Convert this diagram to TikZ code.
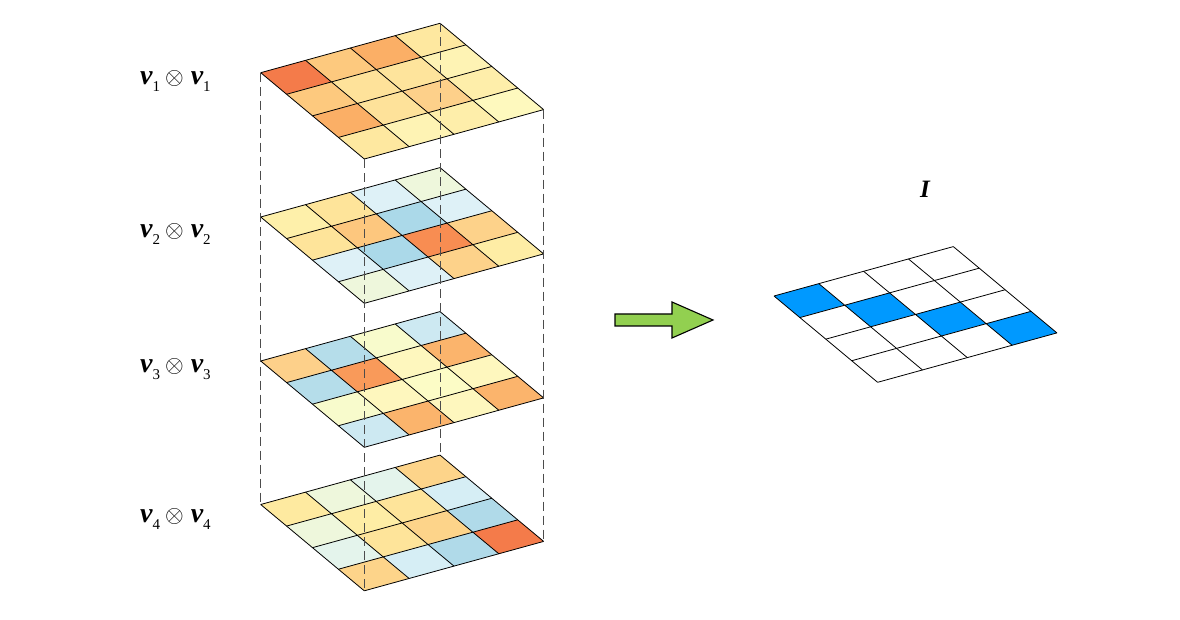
\documentclass[tikz,border=0pt]{standalone}
\usepackage{fontspec}
\setmainfont{Liberation Serif}
\usetikzlibrary{calc}
\definecolor{arrgreen}{HTML}{92D050}
\definecolor{idblue}{HTML}{0099FF}
\tikzset{cellline/.style={black,line width=0.8pt,line join=round}}
\tikzset{guide/.style={dash pattern=on 9pt off 5pt,draw=black!70,line width=1pt}}
\tikzset{arrowbox/.style={draw=black,fill=arrgreen,line width=1.1pt,line join=miter}}
% one 4x4 slab: origin, name, 16 colours row by row
\newcommand{\cellgrid}[3]{%
\begin{scope}[shift={#1},x={(44.83pt,12.35pt)},y={(25.9pt,-21.58pt)}]
\foreach \col [count=\k from 0] in {#3} {
  \pgfmathtruncatemacro{\rr}{floor(\k/4)}
  \pgfmathtruncatemacro{\cc}{mod(\k,4)}
  \definecolor{cellc}{HTML}{\col}
  \fill[cellc] (\cc,\rr) -- ++(1,0) -- ++(0,1) -- ++(-1,0) -- cycle;
}
\foreach \i in {0,...,4} \draw[cellline] (0,\i) -- (4,\i) (\i,0) -- (\i,4);
\coordinate (#2l) at (0,0);
\coordinate (#2t) at (4,0);
\coordinate (#2r) at (4,4);
\coordinate (#2b) at (0,4);
\end{scope}}
\newcommand{\vsub}[1]{{\fontsize{28}{28}\selectfont\bfseries\itshape v}\raisebox{-7pt}{\fontsize{15}{15}\selectfont #1}}
\newcommand{\vlabel}[1]{\vsub{#1}\hspace{5pt}\scalebox{2.4}{$\otimes$}\hspace{7pt}\vsub{#1}}

\begin{document}
\begin{tikzpicture}[x=1pt,y=1pt]
\useasboundingbox (0,0) rectangle (1180,620);
\cellgrid{(260.7,547.3)}{g1}{F47B4A,FDC97E,FBAF66,FEE8A0,FDC97E,FEE29A,FEE49C,FEF3B4,FBAF66,FEE29A,FDD08A,FEEEAA,FEE8A0,FEF3B4,FEEEAA,FEF9BE}
\cellgrid{(260.7,403)}{g2}{FEF0AA,FEE49A,DEF1F7,EEF7DC,FEE49A,FDC77E,ABD9E9,DEF1F7,DEF1F7,ABD9E9,F88D52,FDD28A,EEF7DC,DEF1F7,FDD28A,FEEDA5}
\cellgrid{(260.7,259)}{g3}{FDD08A,B5DDEA,F8FBCC,CDE9F2,B5DDEA,F99A5A,FEF7BE,FBB46C,F8FBCC,FEF7BE,FCFCC6,FEF7BE,CDE9F2,FBB46C,FEF7BE,FBB46C}
\cellgrid{(260.7,115.5)}{g4}{FEEAA0,EEF7DC,E4F4EC,FDD48A,EEF7DC,FEEDA5,FEE49A,D6EEF5,E4F4EC,FEE49A,FDD48A,B0DAE9,FDD48A,D6EEF5,B0DAE9,F47B4A}
\cellgrid{(774,324)}{gi}{0099FF,FFFFFF,FFFFFF,FFFFFF,FFFFFF,0099FF,FFFFFF,FFFFFF,FFFFFF,FFFFFF,0099FF,FFFFFF,FFFFFF,FFFFFF,FFFFFF,0099FF}
% guides through the slab corners
\draw[guide] (g1l) -- (g4l) (g1t) -- (g4t) (g1r) -- (g4r) (g1b) -- (g4b);
\node (lab1) at (140,535) [anchor=base west,inner sep=0pt] {\vlabel{1}};
\node (lab2) at (140,382) [anchor=base west,inner sep=0pt] {\vlabel{2}};
\node (lab3) at (140,247) [anchor=base west,inner sep=0pt] {\vlabel{3}};
\node (lab4) at (140,97) [anchor=base west,inner sep=0pt] {\vlabel{4}};
\node (ident) at (925,422) [anchor=base,inner sep=0pt] {\fontsize{25}{25}\selectfont\bfseries\itshape I};
\draw[arrowbox] (615,294) -- (672,294) -- (672,282) -- (713,300) -- (672,318) -- (672,306) -- (615,306) -- cycle;
\end{tikzpicture}
\end{document}
